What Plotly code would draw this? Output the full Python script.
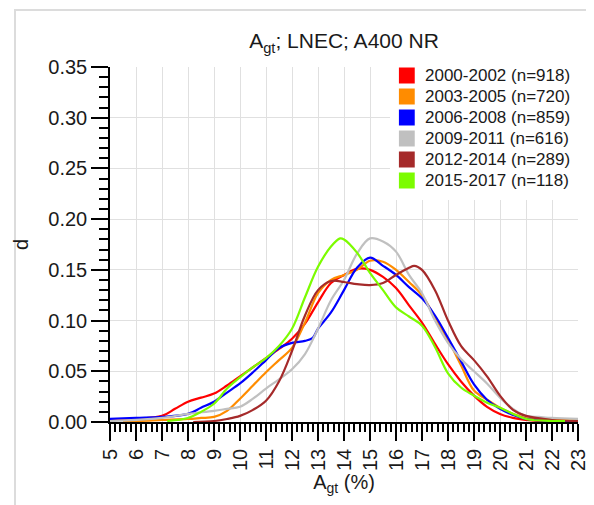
import plotly.graph_objects as go

# -------------------------------
# Density curves
# -------------------------------
labels = ["2000-2002 (n=918)", "2003-2005 (n=720)", "2006-2008 (n=859)",
          "2009-2011 (n=616)", "2012-2014 (n=289)", "2015-2017 (n=118)"]
colors = ["#ff0000", "#ff8c00", "#0000ff", "#c0c0c0", "#a52a2a", "#7cfc00"]

x_2000 = [5, 6, 7, 7.5, 8, 8.5, 9, 9.5, 10, 10.5, 11, 11.5, 12, 12.5, 13, 13.5, 14,
          14.5, 15, 15.5, 16, 16.5, 17, 17.5, 18, 18.5, 19, 19.5, 20, 20.5, 21, 21.5, 22]
d_2000 = [0.002, 0.003, 0.006, 0.013, 0.020, 0.024, 0.028, 0.036, 0.045, 0.054, 0.063,
          0.072, 0.082, 0.097, 0.118, 0.137, 0.145, 0.151, 0.150, 0.143, 0.132, 0.115,
          0.098, 0.077, 0.057, 0.040, 0.026, 0.015, 0.008, 0.004, 0.002, 0.001, 0.001]

x_2003 = [5.5, 6, 7, 8, 8.5, 9, 9.5, 10, 10.5, 11, 11.5, 12, 12.5, 13, 13.5, 14, 14.5,
          15, 15.5, 16, 16.5, 17, 17.5, 18, 18.5, 19, 19.5, 20, 20.5, 21, 22, 23]
d_2003 = [0.001, 0.001, 0.002, 0.003, 0.004, 0.005, 0.011, 0.023, 0.036, 0.049, 0.061,
          0.073, 0.098, 0.127, 0.140, 0.145, 0.150, 0.159, 0.158, 0.150, 0.138, 0.125,
          0.103, 0.081, 0.056, 0.031, 0.022, 0.014, 0.008, 0.004, 0.003, 0.002]

x_2006 = [5, 6, 7, 8, 8.5, 9, 9.5, 10, 10.5, 11, 11.5, 12, 12.5, 12.8, 13, 13.5, 14,
          14.5, 15, 15.5, 16, 16.5, 17, 17.5, 18, 18.5, 19, 19.5, 20, 20.5, 21, 22, 23]
d_2006 = [0.003, 0.004, 0.005, 0.008, 0.014, 0.020, 0.029, 0.038, 0.049, 0.061, 0.073,
          0.078, 0.080, 0.083, 0.092, 0.108, 0.130, 0.152, 0.162, 0.154, 0.145, 0.133,
          0.122, 0.105, 0.083, 0.060, 0.037, 0.022, 0.013, 0.007, 0.003, 0.001, 0.001]

x_2009 = [5, 6, 7, 8, 9, 9.5, 10, 10.5, 11, 11.5, 12, 12.5, 13, 13.5, 14, 14.5, 15,
          15.5, 16, 16.5, 17, 17.5, 18, 18.5, 19, 19.5, 20, 20.5, 21, 21.5, 22, 23]
d_2009 = [0.001, 0.002, 0.004, 0.008, 0.011, 0.013, 0.015, 0.023, 0.033, 0.042, 0.052,
          0.067, 0.092, 0.120, 0.140, 0.166, 0.181, 0.178, 0.168, 0.145, 0.127, 0.100,
          0.078, 0.062, 0.050, 0.038, 0.024, 0.013, 0.006, 0.005, 0.004, 0.003]

x_2012 = [8.2, 9, 9.5, 10, 10.5, 11, 11.5, 12, 12.5, 13, 13.5, 14, 14.5, 15, 15.5, 16,
          16.5, 16.7, 17, 17.5, 18, 18.5, 19, 19.5, 20, 20.5, 21, 22, 23]
d_2012 = [0.000, 0.001, 0.003, 0.006, 0.012, 0.021, 0.040, 0.070, 0.105, 0.130, 0.139,
          0.138, 0.136, 0.135, 0.137, 0.145, 0.152, 0.154, 0.150, 0.130, 0.100, 0.075,
          0.061, 0.045, 0.026, 0.012, 0.006, 0.002, 0.001]

x_2015 = [7.2, 8, 8.5, 9, 9.5, 10, 10.5, 11, 11.5, 12, 12.5, 13, 13.5, 13.85, 14, 14.5,
          15, 15.5, 16, 16.5, 17, 17.5, 18, 18.5, 19, 19.5, 20, 20.5, 21, 22, 22.5]
d_2015 = [0.001, 0.004, 0.010, 0.018, 0.033, 0.044, 0.054, 0.063, 0.075, 0.092, 0.123,
          0.153, 0.173, 0.181, 0.180, 0.167, 0.147, 0.130, 0.113, 0.104, 0.095, 0.074,
          0.048, 0.034, 0.026, 0.019, 0.014, 0.008, 0.003, 0.001, 0.001]

series_x = [x_2000, x_2003, x_2006, x_2009, x_2012, x_2015]
series_d = [d_2000, d_2003, d_2006, d_2009, d_2012, d_2015]

FONT = "Liberation Sans, Arial, sans-serif"
TXT = "#1a1a1a"

# plot area in figure pixels
L, R, T, B = 97, 570, 59, 414
W, H = R - L, B - T


def px(fx):
    return (fx - L) / W


def py(fy):
    return (B - fy) / H


fig = go.Figure()

for xs, ds, col in zip(series_x, series_d, colors):
    fig.add_trace(go.Scatter(
        x=xs, y=ds, mode="lines",
        line=dict(color=col, width=2.2, shape="spline", smoothing=1.0),
        showlegend=False, hoverinfo="skip"
    ))

# -------------------------------
# Legend box (white panel, colour squares, labels)
# -------------------------------
shapes = [
    dict(type="rect", xref="paper", yref="paper",
         x0=px(1), x1=px(700), y0=py(700), y1=py(2),
         line=dict(color="#dcdcdc", width=2), layer="below"),
    dict(type="rect", xref="paper", yref="paper",
         x0=px(380), x1=px(585), y0=py(192), y1=py(58),
         fillcolor="white", line=dict(width=0), layer="above"),
]
annotations = []
row_y0, row_step = 67.5, 21
for i, (lab, col) in enumerate(zip(labels, colors)):
    cy = row_y0 + i * row_step
    shapes.append(dict(type="rect", xref="paper", yref="paper",
                       x0=px(389), x1=px(405), y0=py(cy + 8), y1=py(cy - 8),
                       fillcolor=col, line=dict(width=0), layer="above"))
    annotations.append(dict(text=lab, xref="paper", yref="paper",
                            x=px(413), y=py(cy), xanchor="left", yanchor="middle",
                            showarrow=False, font=dict(size=17, family=FONT, color=TXT)))

fig.update_layout(
    width=594, height=505,
    margin=dict(l=L, r=594 - R, t=T, b=505 - B),
    paper_bgcolor="white", plot_bgcolor="white",
    font=dict(family=FONT, color=TXT),
    showlegend=False,
    title=dict(text="A<sub>gt</sub>; LNEC; A400 NR", x=0.5, xref="paper",
               xanchor="center", y=1 - 33 / 505, yanchor="middle",
               font=dict(size=21, family=FONT, color=TXT)),
    shapes=shapes,
    annotations=annotations,
)

fig.update_xaxes(
    range=[5, 23], dtick=1, tick0=5,
    showgrid=True, gridcolor="#e0e0e0", gridwidth=1,
    showline=True, linecolor="black", linewidth=1.5,
    ticks="outside", ticklen=17, tickwidth=1.5, tickcolor="black",
    tickangle=-90, tickfont=dict(size=20, family=FONT, color=TXT),
    minor=dict(dtick=0.2, ticklen=8, ticks="outside", tickcolor="black", showgrid=False),
    title=dict(text="A<sub>gt</sub> (%)", standoff=4,
               font=dict(size=20, family=FONT, color=TXT)),
    zeroline=False,
)

fig.update_yaxes(
    range=[0, 0.35], dtick=0.05, tick0=0, tickformat=".2f",
    showgrid=True, gridcolor="#e0e0e0", gridwidth=1,
    showline=True, linecolor="black", linewidth=1.5,
    ticks="outside", ticklen=17, tickwidth=1.5, tickcolor="black",
    tickfont=dict(size=20, family=FONT, color=TXT),
    minor=dict(dtick=0.01, ticklen=9, ticks="outside", tickcolor="black", showgrid=False),
    title=dict(text="d", standoff=14, font=dict(size=20, family=FONT, color=TXT)),
    zeroline=False,
)

fig.write_html("out.html")
